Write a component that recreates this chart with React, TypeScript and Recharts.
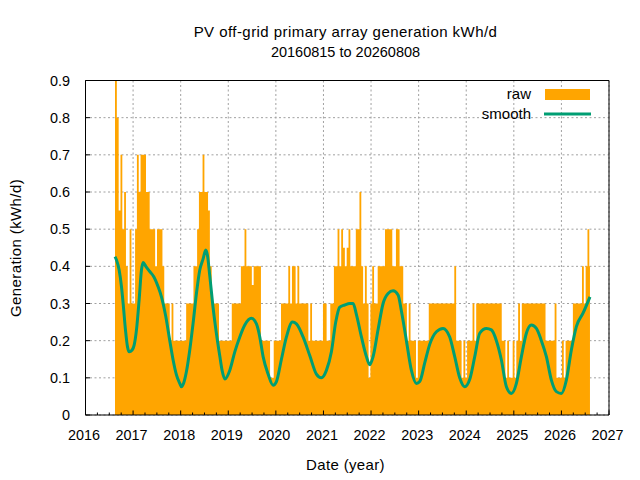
import React from 'react';
import { ComposedChart, Area, Line, XAxis, YAxis, CartesianGrid, ReferenceArea } from 'recharts';

// Raw daily generation, read as the max of each 14-day block from 2016-08-15 (kWh/d)
const rawSeason1 = [0.9, 0.8, 0.55, 0.7, 0.5, 0.6, 0.4, 0.3, 0.5, 0.3, 0.3, 0.5, 0.7, 0.6, 0.7, 0.7, 0.7, 0.6, 0.6, 0.5, 0.5, 0.5, 0.4, 0.5, 0.5, 0.5];
const rawSeason2 = [0.4, 0.3, 0.3, 0.3, 0.2, 0.3, 0.2, 0.2, 0.2, 0.2, 0.2, 0.2, 0.2, 0.3, 0.3, 0.3, 0.3, 0.4, 0.4, 0.5, 0.6, 0.6, 0.7, 0.6, 0.6, 0.55];
const rawSeason3 = [0.4, 0.3, 0.3, 0.3, 0.3, 0.2, 0.2, 0.2, 0.2, 0.2, 0.2, 0.2, 0.3, 0.3, 0.3, 0.3, 0.3, 0.4, 0.4, 0.5, 0.4, 0.4, 0.4, 0.35, 0.4, 0.4];
const rawSeason4 = [0.4, 0.4, 0.2, 0.2, 0.2, 0.2, 0.2, 0.1, 0.1, 0.2, 0.2, 0.2, 0.2, 0.3, 0.3, 0.3, 0.3, 0.4, 0.3, 0.4, 0.4, 0.3, 0.4, 0.3, 0.3, 0.3];
const rawSeason5 = [0.3, 0.3, 0.2, 0.3, 0.2, 0.2, 0.2, 0.2, 0.2, 0.2, 0.3, 0.3, 0.2, 0.2, 0.3, 0.3, 0.4, 0.4, 0.5, 0.4, 0.5, 0.45, 0.4, 0.45, 0.5, 0.4];
const rawSeason6 = [0.4, 0.4, 0.5, 0.5, 0.6, 0.4, 0.3, 0.4, 0.3, 0.1, 0.3, 0.4, 0.3, 0.3, 0.4, 0.4, 0.4, 0.4, 0.5, 0.5, 0.5, 0.5, 0.4, 0.4, 0.5, 0.5];
const rawSeason7 = [0.4, 0.4, 0.3, 0.3, 0.2, 0.3, 0.2, 0.2, 0.2, 0.1, 0.2, 0.2, 0.2, 0.2, 0.2, 0.2, 0.3, 0.3, 0.3, 0.3, 0.3, 0.3, 0.3, 0.3, 0.3, 0.3];
const rawSeason8 = [0.3, 0.3, 0.3, 0.3, 0.4, 0.2, 0.2, 0.2, 0.1, 0.2, 0.1, 0.2, 0.2, 0.2, 0.3, 0.2, 0.3, 0.3, 0.3, 0.3, 0.3, 0.3, 0.3, 0.3, 0.3, 0.3];
const rawSeason9 = [0.3, 0.3, 0.3, 0.3, 0.2, 0.2, 0.1, 0.2, 0.1, 0.1, 0.2, 0.1, 0.2, 0.3, 0.2, 0.3, 0.3, 0.3, 0.3, 0.3, 0.3, 0.3, 0.3, 0.3, 0.3, 0.3];
const rawSeason10 = [0.3, 0.3, 0.2, 0.2, 0.2, 0.2, 0.2, 0.3, 0.1, 0.1, 0.1, 0.2, 0.1, 0.2, 0.2, 0.2, 0.2, 0.3, 0.3, 0.3, 0.3, 0.3, 0.4, 0.3, 0.4, 0.5, 0.4];

// Smoothed curve, [decimal year, kWh/d]
const smooth2016 = [[2016.62, 0.426], [2016.651, 0.417], [2016.707, 0.39], [2016.756, 0.345], [2016.791, 0.3], [2016.84, 0.229], [2016.882, 0.184], [2016.917, 0.17], [2016.98, 0.175]];
const smooth2017 = [[2017.022, 0.188], [2017.071, 0.229], [2017.127, 0.31], [2017.176, 0.39], [2017.211, 0.41], [2017.267, 0.4], [2017.351, 0.386], [2017.435, 0.372], [2017.526, 0.345], [2017.596, 0.318], [2017.687, 0.265], [2017.771, 0.2], [2017.841, 0.148], [2017.911, 0.108], [2017.981, 0.085]];
const smooth2018 = [[2018.016, 0.076], [2018.065, 0.087], [2018.121, 0.117], [2018.191, 0.175], [2018.261, 0.247], [2018.331, 0.327], [2018.401, 0.39], [2018.471, 0.42], [2018.527, 0.444], [2018.562, 0.43], [2018.611, 0.375], [2018.68, 0.29], [2018.75, 0.22], [2018.82, 0.16], [2018.87, 0.12], [2018.93, 0.097]];
const smooth2019 = [[2019.031, 0.12], [2019.137, 0.17], [2019.242, 0.21], [2019.347, 0.242], [2019.487, 0.26], [2019.592, 0.245], [2019.662, 0.21], [2019.732, 0.157], [2019.837, 0.11], [2019.942, 0.08]];
const smooth2020 = [[2020.012, 0.09], [2020.117, 0.15], [2020.222, 0.21], [2020.348, 0.25], [2020.432, 0.245], [2020.572, 0.21], [2020.712, 0.16], [2020.852, 0.11], [2020.957, 0.1]];
const smooth2021 = [[2021.062, 0.12], [2021.167, 0.17], [2021.258, 0.25], [2021.342, 0.29], [2021.447, 0.296], [2021.553, 0.3], [2021.623, 0.3], [2021.693, 0.27], [2021.798, 0.21], [2021.903, 0.157], [2021.973, 0.135]];
const smooth2022 = [[2022.043, 0.157], [2022.148, 0.23], [2022.253, 0.3], [2022.358, 0.327], [2022.463, 0.334], [2022.568, 0.323], [2022.638, 0.28], [2022.743, 0.2], [2022.848, 0.12], [2022.953, 0.085]];
const smooth2023 = [[2023.023, 0.09], [2023.128, 0.14], [2023.233, 0.19], [2023.373, 0.224], [2023.513, 0.233], [2023.653, 0.21], [2023.758, 0.157], [2023.863, 0.1], [2023.968, 0.076]];
const smooth2024 = [[2024.074, 0.096], [2024.179, 0.157], [2024.284, 0.22], [2024.424, 0.233], [2024.529, 0.229], [2024.634, 0.2], [2024.739, 0.148], [2024.844, 0.076], [2024.949, 0.058]];
const smooth2025 = [[2025.054, 0.085], [2025.159, 0.157], [2025.264, 0.22], [2025.369, 0.242], [2025.474, 0.233], [2025.579, 0.2], [2025.684, 0.157], [2025.789, 0.094], [2025.894, 0.063], [2025.999, 0.058]];
const smooth2026 = [[2026.104, 0.094], [2026.209, 0.175], [2026.314, 0.238], [2026.454, 0.274], [2026.6, 0.318]];

const yearTicks = [2016, 2017, 2018, 2019, 2020, 2021, 2022, 2023, 2024, 2025, 2026, 2027];
const yTicks = [0, 0.1, 0.2, 0.3, 0.4, 0.5, 0.6, 0.7, 0.8, 0.9];

const START = 2016 + 227 / 366; // 2016-08-15
const END = 2026 + 219 / 365; // 2026-08-08
const STEP = 14 / 365.25;

const FONT = '"Liberation Sans", Arial, Helvetica, sans-serif';
const ORANGE = '#ffa500';
const GREEN = '#009e73';

const quarterTicks: number[] = [];
yearTicks.forEach((y, i) => {
  quarterTicks.push(y);
  if (i < yearTicks.length - 1) quarterTicks.push(y + 0.25, y + 0.5, y + 0.75);
});

const buildData = () => {
  const raw = [
    ...rawSeason1, ...rawSeason2, ...rawSeason3, ...rawSeason4, ...rawSeason5,
    ...rawSeason6, ...rawSeason7, ...rawSeason8, ...rawSeason9, ...rawSeason10,
  ];
  const rows: { t: number; raw?: number; smooth?: number }[] = raw.map((v, i) => ({ t: START + i * STEP, raw: v }));
  rows.push({ t: END, raw: raw[raw.length - 1] });
  const smooth = [
    ...smooth2016, ...smooth2017, ...smooth2018, ...smooth2019, ...smooth2020, ...smooth2021,
    ...smooth2022, ...smooth2023, ...smooth2024, ...smooth2025, ...smooth2026,
  ];
  smooth.forEach(([t, v]) => rows.push({ t, smooth: v }));
  rows.sort((a, b) => a.t - b.t);
  return rows;
};

const data = buildData();

const isMajor = (v: number) => Math.abs(v - Math.round(v)) < 1e-6;

const BottomTick = (props: any) => {
  const { x, y, payload } = props;
  const v = payload.value;
  const major = isMajor(v);
  return (
    <g>
      <line x1={x} x2={x} y1={y} y2={y - (major ? 4.5 : 2.5)} stroke="#000" />
      {major && (
        <text x={x - 1.5} y={y + 25} textAnchor="middle" fontSize={14.4} fontFamily={FONT} fill="#000">
          {Math.round(v)}
        </text>
      )}
    </g>
  );
};

const TopTick = (props: any) => {
  const { x, y, payload } = props;
  const major = isMajor(payload.value);
  return <line x1={x} x2={x} y1={y} y2={y + (major ? 4.5 : 2.5)} stroke="#000" />;
};

const LeftTick = (props: any) => {
  const { x, y, payload } = props;
  const v = payload.value;
  return (
    <g>
      <line x1={x} x2={x + 4.5} y1={y} y2={y} stroke="#000" />
      <text x={x - 15.5} y={y + 5} textAnchor="end" fontSize={14.4} fontFamily={FONT} fill="#000">
        {v === 0 ? '0' : v.toFixed(1)}
      </text>
    </g>
  );
};

const RightTick = (props: any) => {
  const { x, y } = props;
  return <line x1={x} x2={x - 4.5} y1={y} y2={y} stroke="#000" />;
};

export default function App() {
  return (
    <div style={{ position: 'absolute', left: 0, top: 0, width: 640, height: 480, background: '#fff' }}>
      <ComposedChart
        width={640}
        height={480}
        data={data}
        margin={{ top: 80.5, right: 31, bottom: 35, left: 25 }}
      >
        <XAxis xAxisId="g" dataKey="t" type="number" domain={[2016, 2027]} ticks={yearTicks} allowDataOverflow hide />
        <CartesianGrid xAxisId="g" yAxisId="l" stroke="#a0a0a0" strokeDasharray="2 2.5" />
        <XAxis
          xAxisId="b"
          dataKey="t"
          type="number"
          domain={[2016, 2027]}
          ticks={quarterTicks}
          interval={0}
          allowDataOverflow
          height={30}
          tickSize={0}
          tickMargin={0}
          axisLine={false}
          tick={<BottomTick />}
        />
        <XAxis
          xAxisId="t"
          orientation="top"
          dataKey="t"
          type="number"
          domain={[2016, 2027]}
          ticks={quarterTicks}
          interval={0}
          allowDataOverflow
          height={0}
          tickSize={0}
          tickMargin={0}
          axisLine={false}
          tick={<TopTick />}
        />
        <YAxis
          yAxisId="l"
          type="number"
          domain={[0, 0.9]}
          ticks={yTicks}
          interval={0}
          allowDataOverflow
          width={60.5}
          tickSize={0}
          tickMargin={0}
          axisLine={false}
          tick={<LeftTick />}
        />
        <YAxis
          yAxisId="r"
          orientation="right"
          type="number"
          domain={[0, 0.9]}
          ticks={yTicks}
          interval={0}
          allowDataOverflow
          width={0}
          tickSize={0}
          tickMargin={0}
          axisLine={false}
          tick={<RightTick />}
        />
        <Area
          xAxisId="b"
          yAxisId="l"
          type="stepAfter"
          dataKey="raw"
          stroke="none"
          fill={ORANGE}
          fillOpacity={1}
          connectNulls
          dot={false}
          activeDot={false}
          isAnimationActive={false}
        />
        <Line
          xAxisId="b"
          yAxisId="l"
          type="monotone"
          dataKey="smooth"
          stroke={GREEN}
          strokeWidth={3}
          dot={false}
          activeDot={false}
          connectNulls
          isAnimationActive={false}
        />
        <ReferenceArea
          xAxisId="b"
          yAxisId="l"
          x1={2016}
          x2={2027}
          y1={0}
          y2={0.9}
          fill="none"
          fillOpacity={0}
          stroke="#000"
          strokeWidth={1}
          ifOverflow="visible"
        />
      </ComposedChart>
      <svg
        width={640}
        height={480}
        style={{ position: 'absolute', left: 0, top: 0, pointerEvents: 'none' }}
        fontFamily={FONT}
      >
        <text x={345.5} y={37} textAnchor="middle" fontSize={15} letterSpacing={0.45} fill="#000">
          PV off-grid primary array generation kWh/d
        </text>
        <text x={345.5} y={56.7} textAnchor="middle" fontSize={14.5} fill="#000">
          20160815 to 20260808
        </text>
        <text transform="translate(20.5,248) rotate(-90)" textAnchor="middle" fontSize={15} letterSpacing={0.4} fill="#000">
          Generation (kWh/d)
        </text>
        <text x={345.5} y={469.5} textAnchor="middle" fontSize={15} letterSpacing={0.35} fill="#000">
          Date (year)
        </text>
        <text x={531} y={98.7} textAnchor="end" fontSize={15} fill="#000">raw</text>
        <rect x={545} y={89} width={45} height={11} fill={ORANGE} />
        <text x={531} y={118.5} textAnchor="end" fontSize={15} fill="#000">smooth</text>
        <line x1={544} x2={591} y1={114} y2={114} stroke={GREEN} strokeWidth={3} />
      </svg>
    </div>
  );
}
